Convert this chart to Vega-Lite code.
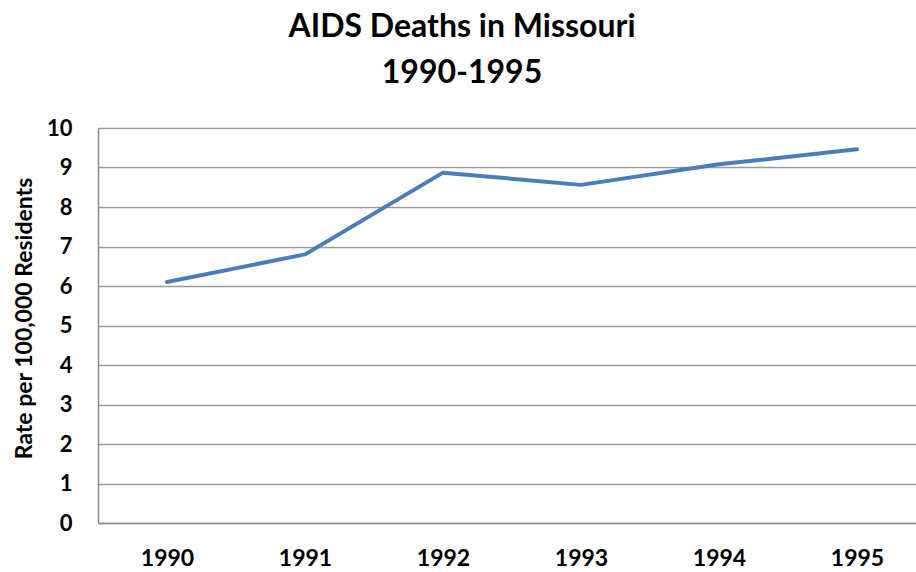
{
  "$schema": "https://vega.github.io/schema/vega-lite/v6.json",
  "width": 828,
  "height": 395,
  "autosize": {"type": "none"},
  "padding": {"left": 98, "top": 128, "right": 0, "bottom": 49},
  "background": "white",
  "title": {
    "text": ["AIDS Deaths in Missouri", "1990-1995"],
    "font": "Lato",
    "fontSize": 32,
    "fontWeight": "bold",
    "color": "#000000",
    "lineHeight": 46,
    "anchor": "middle",
    "dx": -50,
    "offset": 27
  },
  "data": {
    "values": [
      {"year": "1990", "rate": 6.1},
      {"year": "1991", "rate": 6.8},
      {"year": "1992", "rate": 8.87},
      {"year": "1993", "rate": 8.56},
      {"year": "1994", "rate": 9.08},
      {"year": "1995", "rate": 9.46}
    ]
  },
  "mark": {"type": "line", "color": "#4a7ebb", "strokeWidth": 4, "strokeCap": "round", "strokeJoin": "round"},
  "encoding": {
    "x": {
      "field": "year",
      "type": "ordinal",
      "scale": {"type": "point", "padding": 0.5},
      "axis": {
        "title": null,
        "labelAngle": 0,
        "labelFont": "Lato",
        "labelFontSize": 23,
        "labelFontWeight": "bold",
        "labelColor": "#000000",
        "ticks": false,
        "domainColor": "#8c8c8c",
        "domainWidth": 1.5,
        "labelPadding": 24
      }
    },
    "y": {
      "field": "rate",
      "type": "quantitative",
      "scale": {"domain": [0, 10], "nice": false},
      "axis": {
        "values": [0, 1, 2, 3, 4, 5, 6, 7, 8, 9, 10],
        "title": "Rate per 100,000 Residents",
        "titleFont": "Lato",
        "titleFontSize": 23,
        "titleFontWeight": "bold",
        "titleColor": "#000000",
        "titlePadding": 10,
        "titleY": 190,
        "grid": true,
        "gridColor": "#9a9a9a",
        "gridWidth": 1.5,
        "ticks": false,
        "domainColor": "#8c8c8c",
        "domainWidth": 1.5,
        "labelFont": "Lato",
        "labelFontSize": 22,
        "labelFontWeight": "bold",
        "labelColor": "#000000",
        "labelPadding": 26
      }
    }
  },
  "config": {"view": {"stroke": null}}
}
